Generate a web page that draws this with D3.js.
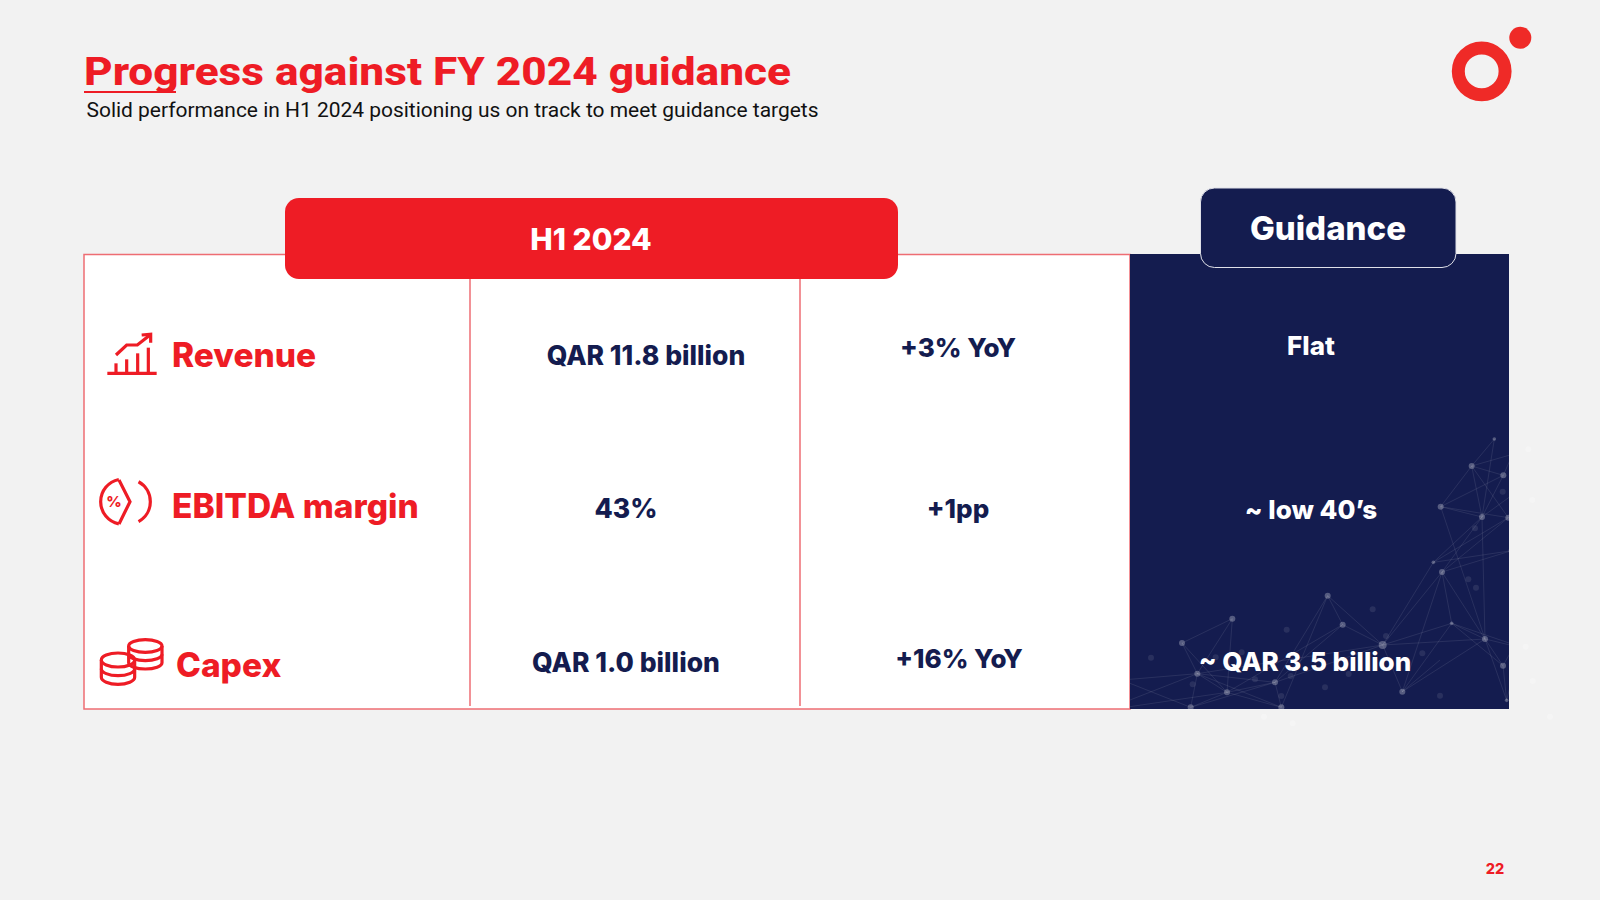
<!DOCTYPE html>
<html>
<head>
<meta charset="utf-8">
<script src="https://cdn.jsdelivr.net/npm/d3@7/dist/d3.min.js"></script>
<style>
  html,body{margin:0;padding:0;background:#f2f2f2;}
  svg{display:block;}
  text{font-family:Inter,"Noto Sans",sans-serif;}
</style>
</head>
<body>
<svg id="mainSVG" width="1600" height="900"></svg>
<script>
!function(){
  // slide content
  var titleText = 'Progress against FY 2024 guidance';
  var subtitleText = 'Solid performance in H1 2024 positioning us on track to meet guidance targets';
  var periodLabel = 'H1 2024';
  var guidanceLabel = 'Guidance';
  var pageNumber = '22';
  var metrics = ['Revenue', 'EBITDA margin', 'Capex'];
  var actuals = ['QAR 11.8 billion', '43%', 'QAR 1.0 billion'];
  var changes = ['+3% YoY', '+1pp', '+16% YoY'];
  var guidance = ['Flat', '~ low 40\u2019s', '~ QAR 3.5 billion'];

  var netNodes = [[1123,57],[1055,138],[1150,166],[962,260],[1086,291],[1165,293],[940,427],[966,456],[1175,392],
    [623,527],[668,614],[995,610],[788,675],[1095,657],[337,596],[186,669],[232,761],[321,817],[465,787],[847,815],
    [1149,737],[1160,841],[212,862],[484,862]];
  var netFaint = [[960,827],[500,629],[758,568],[907,700],[93,713],[287,712],[405,778],[615,802],[686,762],[1068,503],
    [1045,478],[1148,215],[1065,325],[798,648],[218,793],[365,697],[484,828],[512,768]];
  var netLinks = [[0,1],[0,4],[1,2],[1,3],[1,4],[1,5],[2,3],[2,4],[3,4],[3,5],[3,13],[4,6],[4,7],[5,6],[5,7],[4,13],[8,6],[8,7],
    [6,12],[7,12],[7,11],[7,13],[7,19],[11,12],[11,13],[11,19],[12,13],[12,9],[12,10],[12,19],[9,10],[9,18],[10,18],[9,23],
    [14,15],[14,16],[14,17],[15,16],[15,17],[16,17],[16,18],[17,18],[17,10],[18,22],[18,23],[16,22],[17,22],[16,12],[13,19],[13,20],[13,21],[20,21],[11,20],[18,12],[17,23],[16,23]];
  var netEdgeLinks = [[16,30,778],[16,30,840],[17,30,860],[22,30,790],[13,1170,675],[11,1170,670],[20,1170,700],[1,1170,105],[2,1170,120],[4,1170,230],[19,960,720],[21,1170,800]];
  var ghostDots = [[1225,88],[1237,240],[1217,680],[1238,783],[1290,890],[432,890],[518,910]];

  var red = '#ee1c25', navy = '#141c4f', border = '#ee6d73';
  var svg = d3.select('#mainSVG');

  // page position scales
  var rowY = d3.scalePoint().domain(metrics).range([354, 660]);
  var colX = d3.scaleOrdinal().domain(['label','actual','change','guidance']).range([172, 626, 958, 1311]);
  // small hand nudges, the slide is not perfectly aligned
  var labelNudge = {x:[0,0,4], y:[0.5,-1,5]};
  var actualNudge = {x:[20,0,0], y:[1,1.5,2]};
  var changeNudge = {x:[0,0,1], y:[-6,1.5,-1]};
  var guidanceNudge = {x:[0,0,-6], y:[-8,2.5,1.5]};

  svg.append('rect').attr('width',1600).attr('height',900).attr('fill','#f2f2f2');

  // title block
  svg.append('text').attr('x',84).attr('y',85).attr('font-size',39.5).attr('font-weight',800)
    .attr('textLength',707).attr('lengthAdjust','spacingAndGlyphs')
    .style('font-family','Roboto').attr('fill',red).text(titleText);
  svg.append('line').attr('x1',84).attr('x2',176).attr('y1',92).attr('y2',92).attr('stroke',red).attr('stroke-width',2);
  svg.append('text').attr('x',86.5).attr('y',117).attr('font-size',20)
    .attr('textLength',732).attr('lengthAdjust','spacingAndGlyphs')
    .style('font-family','Roboto').attr('fill','#111').text(subtitleText);

  // logo
  svg.append('circle').attr('cx',1481.7).attr('cy',71.3).attr('r',23.4).attr('fill','none').attr('stroke','#ef2a27').attr('stroke-width',13);
  svg.append('circle').attr('cx',1520.3).attr('cy',37.7).attr('r',11).attr('fill','#ef2a27');

  // table body
  svg.append('rect').attr('x',84).attr('y',254.5).attr('width',1046).attr('height',454.5)
    .attr('fill','#fff').attr('stroke',border).attr('stroke-width',1.5);
  svg.selectAll('line.col').data([470,800]).enter().append('line').attr('class','col')
    .attr('x1',function(d){return d;}).attr('x2',function(d){return d;})
    .attr('y1',270).attr('y2',706).attr('stroke',border).attr('stroke-width',1.5);

  // guidance panel and its network texture
  svg.append('rect').attr('x',1130).attr('y',254).attr('width',379).attr('height',455).attr('fill',navy);
  svg.append('clipPath').attr('id','panelClip').append('rect').attr('x',1130).attr('y',254).attr('width',379).attr('height',455);
  var netX = d3.scaleLinear().domain([0,1320]).range([1120,1560]);
  var netY = d3.scaleLinear().domain([0,960]).range([420,740]);
  var net = svg.append('g').attr('clip-path','url(#panelClip)');
  net.selectAll('line.link').data(netLinks).enter().append('line').attr('class','link')
    .attr('x1',function(d){return netX(netNodes[d[0]][0]);}).attr('y1',function(d){return netY(netNodes[d[0]][1]);})
    .attr('x2',function(d){return netX(netNodes[d[1]][0]);}).attr('y2',function(d){return netY(netNodes[d[1]][1]);})
    .attr('stroke','#fff').attr('stroke-opacity',0.13).attr('stroke-width',0.7);
  net.selectAll('line.edge').data(netEdgeLinks).enter().append('line').attr('class','edge')
    .attr('x1',function(d){return netX(netNodes[d[0]][0]);}).attr('y1',function(d){return netY(netNodes[d[0]][1]);})
    .attr('x2',function(d){return netX(d[1]);}).attr('y2',function(d){return netY(d[2]);})
    .attr('stroke','#fff').attr('stroke-opacity',0.13).attr('stroke-width',0.7);
  net.selectAll('circle.faint').data(netFaint).enter().append('circle').attr('class','faint')
    .attr('cx',function(d){return netX(d[0]);}).attr('cy',function(d){return netY(d[1]);})
    .attr('r',3).attr('fill','#fff').attr('fill-opacity',0.09);
  net.selectAll('circle.node').data(netNodes).enter().append('circle').attr('class','node')
    .attr('cx',function(d){return netX(d[0]);}).attr('cy',function(d){return netY(d[1]);})
    .attr('r',function(d,i){return i==12?4:(i==0||i==6||i==11||i==21)?1.8:3;})
    .attr('fill','#fff').attr('fill-opacity',0.28);
  svg.selectAll('circle.ghost').data(ghostDots).enter().append('circle').attr('class','ghost')
    .attr('cx',function(d){return netX(d[0]);}).attr('cy',function(d){return netY(d[1]);})
    .attr('r',3).attr('fill','#fff').attr('fill-opacity',0.25);

  // header pills
  svg.append('rect').attr('x',285).attr('y',198).attr('width',613).attr('height',81).attr('rx',14).attr('fill',red);
  svg.append('text').attr('x',591).attr('y',250).attr('text-anchor','middle').attr('font-size',30).attr('font-weight',800)
    .attr('fill','#fff').text(periodLabel);
  svg.append('rect').attr('x',1200.5).attr('y',188).attr('width',255.5).attr('height',79.5).attr('rx',14)
    .attr('fill',navy).attr('stroke','#dfe0e8').attr('stroke-width',1);
  svg.append('text').attr('x',1328).attr('y',240).attr('text-anchor','middle').attr('font-size',33).attr('font-weight',800)
    .attr('fill','#fff').text(guidanceLabel);

  // table text
  function column(name, values, nudge, size, fill){
    svg.selectAll('text.'+name).data(values).enter().append('text').attr('class',name)
      .attr('x',function(d,i){return colX(name)+nudge.x[i];})
      .attr('y',function(d,i){return rowY(metrics[i])+nudge.y[i];})
      .attr('dy','.36em')
      .attr('text-anchor',name=='label'?'start':'middle')
      .attr('font-size',size).attr('font-weight',800).attr('fill',fill)
      .text(function(d){return d;});
  }
  column('label', metrics, labelNudge, 33.5, red);
  column('actual', actuals, actualNudge, 26.5, navy);
  column('change', changes, changeNudge, 26, navy);
  column('guidance', guidance, guidanceNudge, 26, '#fff');

  var iconX = d3.scaleLinear().domain([0,1200]).range([80,480]);
  var iconY = d3.scaleLinear().domain([0,1260]).range([300,720]);
  var trace = d3.line().x(function(d){return iconX(d[0]);}).y(function(d){return iconY(d[1]);});
  var icons = svg.append('g').attr('fill','none').attr('stroke',red).attr('stroke-width',3.2);

  [[[82,220],[230,220]],[[108,220],[108,190]],[[140,220],[140,178]],[[173,220],[173,160]],[[205,220],[205,143]],
   [[108,165],[140,135],[172,135],[210,105]],[[185,105],[212,103],[212,128]]].forEach(function(p){
    icons.append('path').attr('d',trace(p));
  });

  var ebitda = icons.append('g');
  var ecx = iconX(130), ecy = iconY(605), er = (iconX(68)-iconX(0));
  var leftArc = d3.arc().innerRadius(er).outerRadius(er).startAngle(-Math.PI+0.2).endAngle(-0.2);
  ebitda.append('path').attr('transform','translate('+ecx+','+ecy+')').attr('d',leftArc());
  ebitda.append('path').attr('d',trace([[117,540],[150,605],[117,672]]));
  var rightArc = d3.arc().innerRadius(er).outerRadius(er).startAngle(0.5).endAngle(Math.PI-0.5);
  ebitda.append('path').attr('transform','translate('+iconX(143)+','+ecy+')').attr('d',rightArc());
  svg.append('text').attr('x',iconX(102)).attr('y',iconY(622)).attr('text-anchor','middle').attr('font-size',15).attr('font-weight',800).attr('fill',red).text('%');

  function coins(cx, top, rx, ry, gap, n){
    d3.range(n).forEach(function(i){
      var y = top+i*gap;
      if(i==0){
        icons.append('ellipse').attr('cx',iconX(cx)).attr('cy',iconY(y)).attr('rx',iconX(rx)-iconX(0)).attr('ry',iconY(ry)-iconY(0));
      }
      var x0=iconX(cx-rx), x1=iconX(cx+rx), yy=iconY(y), yb=iconY(y+gap);
      var ryp=iconY(ry)-iconY(0), rxp=iconX(rx)-iconX(0);
      icons.append('path').attr('d','M'+x0+','+yy+'L'+x0+','+yb+'A'+rxp+','+ryp+' 0 0 0 '+x1+','+yb+'L'+x1+','+yy);
    });
  }
  coins(196,1038,50,19,25,2);
  coins(114,1080,50,21,26,2);

  svg.append('text').attr('x',1495).attr('y',874).attr('text-anchor','middle').attr('font-size',14.5).attr('font-weight',800).attr('fill',red).text(pageNumber);
}();
</script>
</body>
</html>
